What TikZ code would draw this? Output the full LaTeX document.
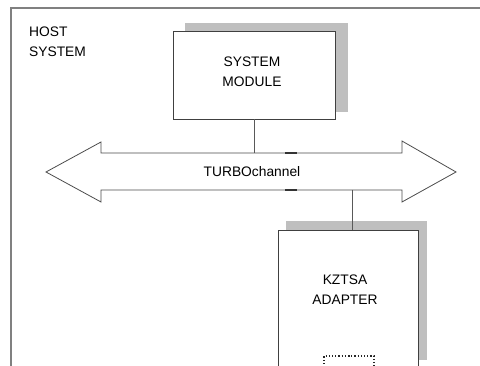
\documentclass[tikz,border=0pt]{standalone}
\usepackage{fontspec}
\setmainfont{Liberation Sans}
\begin{document}
\begin{tikzpicture}[x=1pt,y=-1pt,
  frame/.style={draw=black!50, line width=1.3pt},
  box/.style={draw=black!75, line width=0.9pt, fill=white, inner sep=0pt},
  shadow/.style={fill=black!25, draw=none},
  lbl/.style={font=\fontsize{13.8}{20}\selectfont, align=center, inner sep=0pt},
  wire/.style={draw=black!65, line width=0.8pt},
  busline/.style={draw=black!70, line width=0.8pt, fill=white},
  busmark/.style={draw=black!80, line width=1.1pt},
  slot/.style={draw=black!85, line width=1.2pt, dash pattern=on 1.2pt off 2pt}]
\useasboundingbox (0,0) rectangle (480,366);
\clip (0,0) rectangle (480,366);
% host system frame
\draw[frame] (480,8) -- (11,8) -- (11,370);
\node[lbl, align=left, anchor=west] (host) at (29,42) {HOST\\SYSTEM};
% system module
\fill[shadow] (185,23) rectangle (348,112);
\node[box, minimum width=162pt, minimum height=88pt] (sysmod) at (254,75) {};
\node[lbl] (sysmodtxt) at (252,72) {SYSTEM\\MODULE};
% TURBOchannel bus
\coordinate (bt) at (254,153);
\coordinate (bb) at (352,190);
\draw[busline] (46,172) -- (101,142) -- (101,153) -- (402,153) -- (402,141)
  -- (456,172) -- (402,202) -- (402,190) -- (101,190) -- (101,202) -- cycle;
\draw[busmark] (285,153) -- (297,153);
\draw[busmark] (285,190) -- (297,190);
\node[lbl] (bus) at (252,172) {TURBOchannel};
% adapter
\fill[shadow] (286,221) rectangle (427,360);
\node[box, minimum width=140pt, minimum height=160pt] (adapter) at (348,310) {};
\node[lbl] (adaptertxt) at (345,290) {KZTSA\\ADAPTER};
\coordinate (sl) at (324,380);
\coordinate (sr) at (374,380);
\draw[slot] (sl) |- (349,356) -| (sr);
% connectors
\draw[wire] (sysmod.south) -- (bt);
\draw[wire] (bb) -- (bb |- adapter.north);
\end{tikzpicture}
\end{document}
